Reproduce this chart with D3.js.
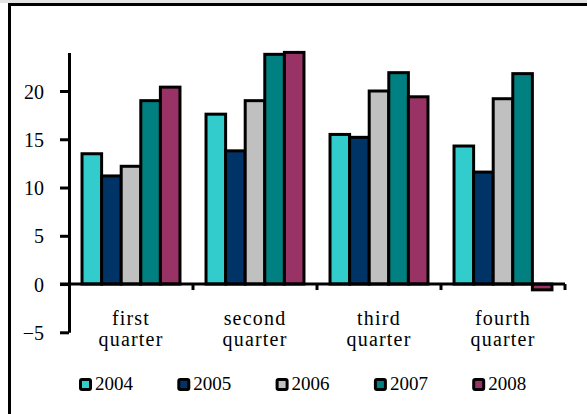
<!DOCTYPE html>
<html>
<head>
<meta charset="utf-8">
<script src="https://cdn.jsdelivr.net/npm/d3@7/dist/d3.min.js"></script>
<style>
  html, body { margin: 0; padding: 0; background: #fff; }
  svg { display: block; }
  svg text { font-family: "Liberation Serif", "Times New Roman", Times, serif !important; fill: #000; }
</style>
</head>
<body>
<svg id="chart" width="587" height="414"></svg>
<script>
const categories = [["first", "quarter"], ["second", "quarter"], ["third", "quarter"], ["fourth", "quarter"]];
const seriesNames = ["2004", "2005", "2006", "2007", "2008"];
const seriesColors = ["#33CCCC", "#003366", "#C0C0C0", "#008080", "#993366"];
const values2004 = [13.5, 17.6, 15.5, 14.3];
const values2005 = [11.2, 13.8, 15.2, 11.6];
const values2006 = [12.2, 19.0, 20.0, 19.2];
const values2007 = [19.0, 23.8, 21.9, 21.8];
const values2008 = [20.4, 24.0, 19.4, -0.6];
const yTicks = [-5, 0, 5, 10, 15, 20];

const series = [values2004, values2005, values2006, values2007, values2008];
const catKeys = categories.map(c => c.join(" "));
const FONT = "'Liberation Serif', 'Times New Roman', Times, serif";

const svg = d3.select("#chart");

// frame
svg.append("rect").attr("x", 0).attr("y", 0).attr("width", 587).attr("height", 3).attr("fill", "#e4e4e4");
svg.append("path").attr("d", "M9.5,414 V4.5 H587").attr("fill", "none").attr("stroke", "#000").attr("stroke-width", 3);

const x0 = d3.scaleBand().domain(catKeys).range([69, 565]).paddingInner(0.21).paddingOuter(0.105);
const x1 = d3.scaleBand().domain(seriesNames).range([0, x0.bandwidth()]);
const y = d3.scaleLinear().domain([-5, 24]).range([332.3, 52.4]);

// bars
const g = svg.append("g");
categories.forEach((c, ci) => {
  seriesNames.forEach((s, si) => {
    const v = series[si][ci];
    g.append("rect")
      .attr("x", x0(catKeys[ci]) + x1(s))
      .attr("width", x1.bandwidth())
      .attr("y", y(Math.max(0, v)))
      .attr("height", Math.abs(y(v) - y(0)))
      .attr("fill", seriesColors[si])
      .attr("stroke", "#000")
      .attr("stroke-width", 3);
  });
});

// y axis
const yAxis = svg.append("g").attr("transform", "translate(69,0)")
  .call(d3.axisLeft(y).tickValues(yTicks).tickSize(9).tickSizeOuter(0).tickPadding(16));
yAxis.attr("font-family", FONT);
yAxis.select(".domain").attr("stroke", "#000").attr("stroke-width", 3);
yAxis.selectAll(".tick line").attr("stroke", "#000").attr("stroke-width", 3);
yAxis.selectAll(".tick text").attr("font-size", 20).style("font-family", FONT).attr("fill", "#000").attr("dy", "0.35em");

// x axis at zero
const xAxisG = svg.append("g").attr("transform", `translate(0,${y(0)})`);
xAxisG.append("line").attr("x1", 60).attr("x2", x0.range()[1]).attr("y1", 0).attr("y2", 0)
  .attr("stroke", "#000").attr("stroke-width", 3);
const boundaries = catKeys.map(k => x0(k) - x0.step() * x0.paddingOuter()).concat([x0.range()[1]]).slice(1);
boundaries.forEach(bx => {
  xAxisG.append("line").attr("x1", bx).attr("x2", bx).attr("y1", 0).attr("y2", 6)
    .attr("stroke", "#000").attr("stroke-width", 3);
});

// category labels
categories.forEach((c, ci) => {
  const cx = x0(catKeys[ci]) + x0.bandwidth() / 2;
  const t = svg.append("text").attr("text-anchor", "middle").attr("font-size", 20)
    .style("font-family", FONT).attr("letter-spacing", 1.2);
  t.append("tspan").attr("x", cx).attr("y", 325).text(c[0]);
  t.append("tspan").attr("x", cx).attr("y", 346).text(c[1]);
});

// legend
const leg = svg.append("g");
seriesNames.forEach((s, si) => {
  const lx = 79 + si * 98.3;
  leg.append("rect").attr("x", lx + 1.5).attr("y", 379.5).attr("width", 10).attr("height", 10)
    .attr("fill", seriesColors[si]).attr("stroke", "#000").attr("stroke-width", 3).attr("rx", 1.5);
  leg.append("text").attr("x", lx + 16).attr("y", 390).attr("font-size", 19).style("font-family", FONT).text(s);
});
</script>
</body>
</html>
